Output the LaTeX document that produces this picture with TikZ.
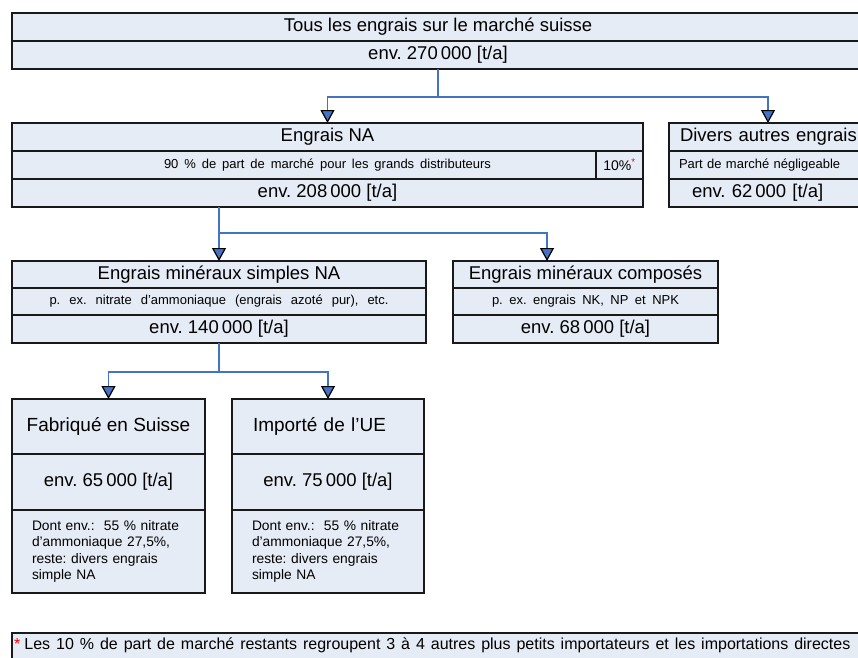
\documentclass[tikz,border=0pt]{standalone}
\usepackage{fontspec}
\setmainfont{Liberation Sans}
\usetikzlibrary{arrows.meta}
\definecolor{boxfill}{HTML}{E6ECF6}
\definecolor{cblue}{HTML}{4472C4}
\frenchspacing
\begin{document}
\frenchspacing
\begin{tikzpicture}[x=1pt,y=-1pt,
  row/.style={draw=black!90, line width=1.4pt, fill=boxfill, inner sep=0pt, outer sep=0pt, anchor=center},
  big/.style={font=\fontsize{18.5}{22}\selectfont},
  xl/.style={font=\fontsize{19}{23}\selectfont},
  small/.style={font=\fontsize{13}{15}\selectfont},
  note/.style={font=\fontsize{13.8}{16.5}\selectfont, align=left, text width=153pt},
  link/.style={draw=cblue, line width=1.6pt},
  arr/.style={link, -{Triangle[width=14pt,length=13pt,fill=cblue,color=black,line width=1.2pt]}},
]
\useasboundingbox (0,0) rectangle (858,657);

% top box
\node[row, minimum width=852pt, minimum height=28pt, big] (top1) at (438,27) {Tous les engrais sur le marché suisse};
\node[row, minimum width=852pt, minimum height=28pt, big] (top2) at (438,55) {env. 270\,000 [t/a]};

% Engrais NA
\node[row, minimum width=631pt, minimum height=28pt, big] (na1) at (327.5,137) {Engrais NA};
\node[row, minimum width=631pt, minimum height=28pt, small] (na2) at (327.5,165) {\makebox[327pt][s]{90 \% de part de marché pour les grands distributeurs}};
\node[row, minimum width=47pt, minimum height=28pt, font=\fontsize{14}{16}\selectfont] (pct) at (619.5,165) {10\%\textsuperscript{\textcolor{red}{*}}};
\node[row, minimum width=631pt, minimum height=28pt, big] (na3) at (327.5,193) {env. 208\,000 [t/a]};

% Divers autres engrais
\node[row, minimum width=198pt, minimum height=28pt, big, text width=190pt, align=left] (div1) at (768,137) {\mbox{\hspace*{7pt}Divers autres engrais}};
\node[row, minimum width=198pt, minimum height=28pt, small, text width=190pt, align=left] (div2) at (768,165) {\mbox{\hspace*{6pt}\makebox[167pt][s]{Part de marché négligeable}}};
\node[row, minimum width=198pt, minimum height=28pt, big, text width=190pt, align=left] (div3) at (768,193) {\mbox{\hspace*{19pt}env. 62\,000 [t/a]}};

% Engrais mineraux simples NA
\node[row, minimum width=414pt, minimum height=27pt, big] (sim1) at (219,274.5) {Engrais minéraux simples NA};
\node[row, minimum width=414pt, minimum height=27pt, small] (sim2) at (219,301.5) {\makebox[339pt][s]{p. ex. nitrate d'ammoniaque (engrais azoté pur), etc.}};
\node[row, minimum width=414pt, minimum height=28pt, big] (sim3) at (219,329) {env. 140\,000 [t/a]};

% Engrais mineraux composes
\node[row, minimum width=265pt, minimum height=27pt, big] (comp1) at (585.5,274.5) {Engrais minéraux composés};
\node[row, minimum width=265pt, minimum height=27pt, small] (comp2) at (585.5,301.5) {\makebox[187pt][s]{p. ex. engrais NK, NP et NPK}};
\node[row, minimum width=265pt, minimum height=28pt, big] (comp3) at (585.5,329) {env. 68\,000 [t/a]};

% Fabrique en Suisse
\node[row, minimum width=193pt, minimum height=55pt, xl] (fab1) at (108.5,426.5) {Fabriqué en Suisse};
\node[row, minimum width=193pt, minimum height=56pt, big] (fab2) at (108.5,482) {env. 65\,000 [t/a]};
\node[row, minimum width=193pt, minimum height=83pt, note] (fab3) at (108.5,551.5) {Dont env.:\ \ 55 \% nitrate\\ d'ammoniaque 27,5\%,\\ reste: divers engrais\\ simple NA};

% Importe de l'UE
\node[row, minimum width=192pt, minimum height=55pt, xl, text width=150pt, align=left] (imp1) at (328,426.5) {Importé de l'UE};
\node[row, minimum width=192pt, minimum height=56pt, big] (imp2) at (328,482) {env. 75\,000 [t/a]};
\node[row, minimum width=192pt, minimum height=83pt, note, text width=152pt] (imp3) at (328,551.5) {Dont env.:\ \ 55 \% nitrate\\ d'ammoniaque 27,5\%,\\ reste: divers engrais\\ simple NA};

% footer
\node[row, minimum width=858pt, minimum height=47pt] (foot) at (441,656.5) {};
\node[anchor=west, inner sep=0pt, font=\fontsize{16}{19}\selectfont] (foottext) at (14,645) {\textcolor{red}{*}\hspace{4pt}\makebox[826pt][s]{Les 10 \% de part de marché restants regroupent 3 à 4 autres plus petits importateurs et les importations directes}};

% connectors
\coordinate (j1) at (438,97);
\draw[link] (top2.south) -- (j1);
\draw[arr] (j1) -| (na1.north);
\draw[arr] (j1) -| (div1.north);

\coordinate (j2) at (219,233);
\coordinate (c2) at (547,261);
\draw[link] (na3.south -| j2) -- (j2);
\draw[arr] (j2) -- (sim1.north);
\draw[arr] (j2) -| (c2);

\coordinate (j3) at (219,372);
\draw[link] (sim3.south) -- (j3);
\draw[arr] (j3) -| (fab1.north);
\draw[arr] (j3) -| (imp1.north);
\end{tikzpicture}
\end{document}
